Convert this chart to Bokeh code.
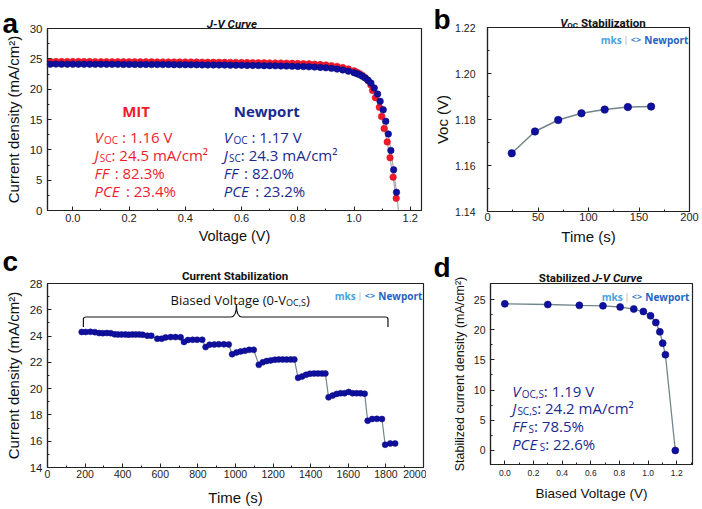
from bokeh.plotting import figure
from bokeh.models import Range1d, FixedTicker, PrintfTickFormatter, Label, BoxAnnotation
from bokeh.layouts import column, row
from bokeh.embed import file_html
from bokeh.resources import INLINE

# ---------------- data ----------------
# (a) J-V curve, MIT (red) and Newport (blue)
mit_v = [-0.08, -0.06, -0.04, -0.02, 0.00, 0.02, 0.04, 0.06, 0.08,
         0.10, 0.12, 0.14, 0.16, 0.18, 0.20, 0.22, 0.24, 0.26, 0.28,
         0.30, 0.32, 0.34, 0.36, 0.38, 0.40, 0.42, 0.44, 0.46, 0.48,
         0.50, 0.52, 0.54, 0.56, 0.58, 0.60, 0.62, 0.64, 0.66, 0.68,
         0.70, 0.72, 0.74, 0.76, 0.78, 0.80, 0.82, 0.84, 0.86, 0.88,
         0.90, 0.92, 0.94, 0.96, 0.98, 1.00,
         1.01, 1.02, 1.03, 1.04, 1.05, 1.06,
         1.066, 1.076, 1.090, 1.098, 1.107, 1.118, 1.128, 1.139, 1.150]
mit_j = [24.55, 24.56, 24.55, 24.55, 24.54, 24.55, 24.54, 24.54, 24.53,
         24.53, 24.53, 24.52, 24.52, 24.52, 24.51, 24.51, 24.50, 24.50, 24.50,
         24.49, 24.49, 24.48, 24.48, 24.47, 24.47, 24.46, 24.46, 24.45, 24.44,
         24.44, 24.43, 24.42, 24.41, 24.40, 24.39, 24.38, 24.37, 24.36, 24.34,
         24.33, 24.32, 24.30, 24.28, 24.26, 24.24, 24.21, 24.17, 24.12, 24.06,
         23.98, 23.88, 23.75, 23.57, 23.33, 23.02,
         22.80, 22.55, 22.25, 21.90, 21.40, 20.70,
         19.8, 18.6, 17.0, 15.5, 13.5, 11.3, 8.7, 5.5, 2.0]
newport_v = [-0.08, -0.06, -0.04, -0.02, 0.00, 0.02, 0.04, 0.06, 0.08,
             0.10, 0.12, 0.14, 0.16, 0.18, 0.20, 0.22, 0.24, 0.26, 0.28,
             0.30, 0.32, 0.34, 0.36, 0.38, 0.40, 0.42, 0.44, 0.46, 0.48,
             0.50, 0.52, 0.54, 0.56, 0.58, 0.60, 0.62, 0.64, 0.66, 0.68,
             0.70, 0.72, 0.74, 0.76, 0.78, 0.80, 0.82, 0.84, 0.86, 0.88,
             0.90, 0.92, 0.94, 0.96, 0.98, 1.00,
             1.01, 1.02, 1.03, 1.04, 1.05, 1.06, 1.072,
             1.084, 1.093, 1.104, 1.113, 1.122, 1.131, 1.141, 1.151]
newport_j = [24.12, 24.13, 24.12, 24.12, 24.12, 24.11, 24.11, 24.11, 24.10,
             24.10, 24.10, 24.09, 24.09, 24.08, 24.08, 24.08, 24.07, 24.07, 24.06,
             24.06, 24.05, 24.05, 24.04, 24.03, 24.03, 24.02, 24.01, 24.00, 23.99,
             23.99, 23.98, 23.97, 23.96, 23.95, 23.94, 23.92, 23.91, 23.89, 23.87,
             23.86, 23.84, 23.82, 23.80, 23.78, 23.75, 23.72, 23.68, 23.64, 23.59,
             23.52, 23.43, 23.31, 23.16, 22.97, 22.72,
             22.56, 22.36, 22.12, 21.83, 21.47, 21.02, 20.2,
             19.2, 18.0, 16.6, 14.7, 12.6, 9.9, 6.7, 3.0]
newport_tail_v = [1.151, 1.158]
newport_tail_j = [3.0, 0.0]

# (b) Voc stabilization
voc_time = [24, 47, 70, 93, 116, 139, 162]
voc_value = [1.1653, 1.1748, 1.1798, 1.1827, 1.1843, 1.1854, 1.1856]

# (c) current stabilization
cur_time = [182, 203, 228, 252,
            274, 294, 315, 336,
            357, 375, 394, 414, 432, 451, 469, 488, 506,
            531, 552,
            584, 607,
            628, 655, 681, 708,
            726,
            747, 772, 796, 823,
            841,
            862, 887, 911, 938, 964,
            982,
            1005, 1027, 1050, 1073, 1097,
            1124,
            1145, 1166, 1187, 1209, 1230, 1251, 1272, 1294, 1313,
            1333,
            1354, 1375, 1396, 1418, 1439, 1460, 1478,
            1495,
            1517, 1538, 1559, 1580, 1602, 1623, 1644, 1665, 1687,
            1703,
            1727, 1752, 1779,
            1796,
            1823, 1849]
cur_j = [24.31, 24.31, 24.32, 24.30,
         24.23, 24.22, 24.23, 24.22,
         24.13, 24.12, 24.12, 24.12, 24.11, 24.12, 24.12, 24.12, 24.10,
         24.03, 24.02,
         23.80, 23.80,
         23.90, 23.92, 23.92, 23.91,
         23.55,
         23.70, 23.72, 23.72, 23.72,
         23.16,
         23.34, 23.36, 23.37, 23.37, 23.36,
         22.62,
         22.75, 22.83, 22.88, 22.95, 22.95,
         21.81,
         22.01, 22.10, 22.15, 22.20, 22.22, 22.22, 22.21, 22.22, 22.22,
         20.82,
         20.92, 21.05, 21.13, 21.15, 21.15, 21.15, 21.15,
         19.34,
         19.47, 19.60, 19.65, 19.65, 19.75, 19.65, 19.65, 19.64, 19.62,
         17.56,
         17.69, 17.70, 17.69,
         15.73,
         15.83, 15.83]
bracket_start, bracket_end, bracket_mid = 191, 1811, 1005
bracket_level, bracket_foot, bracket_peak = 25.45, 24.69, 26.34

# (d) stabilized J-V curve
bias_v = [0.0, 0.30, 0.52, 0.685, 0.805, 0.90, 0.967, 1.017, 1.054, 1.082, 1.102, 1.121, 1.19]
bias_j = [24.28, 24.17, 24.03, 23.95, 23.76, 23.42, 23.01, 22.30, 21.20, 19.65, 17.77, 15.86, 0.0]

# ticks
a_xticks = [0.0, 0.2, 0.4, 0.6, 0.8, 1.0, 1.2]
a_xminor = [0.1, 0.3, 0.5, 0.7, 0.9, 1.1]
a_yticks = [0, 5, 10, 15, 20, 25, 30]
a_yminor = [2.5, 7.5, 12.5, 17.5, 22.5, 27.5]
b_xticks = [0, 50, 100, 150, 200]
b_xminor = [25, 75, 125, 175]
b_yticks = [1.14, 1.16, 1.18, 1.20, 1.22]
b_yminor = [1.15, 1.17, 1.19, 1.21]
c_xticks = [0, 200, 400, 600, 800, 1000, 1200, 1400, 1600, 1800, 2000]
c_xminor = [100, 300, 500, 700, 900, 1100, 1300, 1500, 1700, 1900]
c_yticks = [14, 16, 18, 20, 22, 24, 26, 28]
c_yminor = [15, 17, 19, 21, 23, 25, 27]
d_xticks = [0.0, 0.2, 0.4, 0.6, 0.8, 1.0, 1.2]
d_xminor = [0.1, 0.3, 0.5, 0.7, 0.9, 1.1, 1.3]
d_yticks = [0, 5, 10, 15, 20, 25]
d_yminor = [2.5, 7.5, 12.5, 17.5, 22.5]

# ---------------- styles ----------------
RED = "#ee1c2e"
NAVY = "#1b2a8f"
DOT = "#1010a0"
DOT_EDGE = "#0a0a7a"
LINE_GRAY = "#72868a"
AXC = "#222222"
TXT = "#111111"

CW = {' ': 0.26, '.': 0.27, ',': 0.25, ':': 0.27, '%': 0.82, '/': 0.37, '(': 0.30, ')': 0.30,
      '-': 0.32, '|': 0.55, '<': 0.57, '>': 0.57, '\u00b2': 0.37,
      'A': 0.63, 'B': 0.65, 'C': 0.63, 'E': 0.56, 'F': 0.52, 'I': 0.28, 'J': 0.30, 'M': 0.91,
      'N': 0.76, 'O': 0.78, 'P': 0.60, 'S': 0.55, 'T': 0.56, 'V': 0.59,
      'a': 0.56, 'b': 0.61, 'c': 0.48, 'd': 0.61, 'e': 0.56, 'g': 0.54, 'i': 0.26, 'k': 0.52,
      'l': 0.26, 'm': 0.93, 'n': 0.61, 'o': 0.60, 'p': 0.61, 'r': 0.41, 's': 0.48, 't': 0.35,
      'u': 0.61, 'v': 0.50, 'w': 0.77, 'y': 0.50, 'z': 0.47}
for _d in "0123456789":
    CW[_d] = 0.572
FONT_SCALE = {"Open Sans": 1.0, "Roboto": 0.92, "Liberation Sans": 0.95}


def tw(t, size, style):
    w = sum(CW.get(ch, 0.56) for ch in t) * size
    if "bold" in style:
        w *= 1.06
    if "italic" in style:
        w += 0.05 * size
    return w


def rich(p, x, y, parts, align="left", dx=0.0, dy=0.0, font="Open Sans"):
    sc = FONT_SCALE.get(font, 1.0)
    ws = [tw(t, s, st) * sc for (t, s, st, c, sh) in parts]
    total = sum(ws)
    off = dx - {"left": 0.0, "center": total / 2.0, "right": total}[align]
    for (t, s, st, c, sh), w in zip(parts, ws):
        lead = len(t) - len(t.lstrip(" "))
        o = off + lead * CW[" "] * s * sc
        body = t.strip(" ")
        if body:
            p.add_layout(Label(x=x, y=y, x_offset=o, y_offset=dy + sh, text=body,
                               text_font=font, text_font_size=f"{s}px", text_font_style=st,
                               text_color=c, text_baseline="alphabetic", text_align="left"))
        off += w


def make_fig(w, h, box_x, box_y, m_left, m_right, m_top, m_bottom,
             xt, xm, yt, ym, xfmt, yfmt, xfs, yfs,
             xlabel, ylabel, xlfs, ylfs, xls=4, yls=5, xms=3, yms=4):
    # the frame fills the whole canvas; the visible box sits inside it at the given pixel margins
    bw = w - m_left - m_right
    bh = h - m_top - m_bottom
    kx = (box_x[1] - box_x[0]) / bw
    ky = (box_y[1] - box_y[0]) / bh
    xr = Range1d(box_x[0] - m_left * kx, box_x[1] + m_right * kx)
    yr = Range1d(box_y[0] - m_bottom * ky, box_y[1] + m_top * ky)
    p = figure(width=w, height=h, x_range=xr, y_range=yr, title=None,
               output_backend="svg", toolbar_location=None,
               min_border_left=0, min_border_right=0, min_border_top=0, min_border_bottom=0)
    p.xgrid.visible = False
    p.ygrid.visible = False
    p.outline_line_color = None
    p.background_fill_color = "white"
    p.border_fill_color = "white"
    p.add_layout(BoxAnnotation(left=box_x[0], right=box_x[1], bottom=box_y[0], top=box_y[1],
                               fill_color=None, line_color=AXC, line_width=1.2, line_alpha=1.0))
    p.xaxis.fixed_location = box_y[0]
    p.xaxis.bounds = box_x
    p.yaxis.fixed_location = box_x[0]
    p.yaxis.bounds = box_y
    p.xaxis.ticker = FixedTicker(ticks=xt, minor_ticks=xm)
    p.yaxis.ticker = FixedTicker(ticks=yt, minor_ticks=ym)
    p.xaxis.formatter = PrintfTickFormatter(format=xfmt)
    p.yaxis.formatter = PrintfTickFormatter(format=yfmt)
    p.xaxis.axis_label = xlabel
    p.yaxis.axis_label = ylabel
    for ax, fs, lfs, ls, ms in ((p.xaxis[0], xfs, xlfs, xls, xms), (p.yaxis[0], yfs, ylfs, yls, yms)):
        ax.axis_line_color = AXC
        ax.axis_line_width = 1.2
        ax.major_tick_in = 4
        ax.major_tick_out = 0
        ax.minor_tick_in = 2
        ax.minor_tick_out = 0
        ax.major_tick_line_color = AXC
        ax.minor_tick_line_color = AXC
        ax.major_label_text_font = "Liberation Sans"
        ax.major_label_text_font_size = f"{fs}px"
        ax.major_label_text_color = AXC
        ax.major_label_standoff = ms
        ax.axis_label_text_font = "Liberation Sans"
        ax.axis_label_text_font_style = "normal"
        ax.axis_label_text_font_size = f"{lfs}px"
        ax.axis_label_text_color = TXT
        ax.axis_label_standoff = ls
    return p


def letter(p, x, y, text, dx, dy):
    p.add_layout(Label(x=x, y=y, x_offset=dx, y_offset=dy, text=text,
                       text_font="Liberation Sans", text_font_style="bold",
                       text_font_size="28px", text_color="#000", text_baseline="alphabetic"))


def logo(p, x, y, dx, dy):
    parts = [("mks", 10, "bold", "#4aa3df", 0),
             (" | ", 9, "normal", "#9aa4aa", 0),
             ("<>", 9, "bold", "#3a7fc8", 0),
             (" Newport", 10, "bold", "#2563c2", 0)]
    rich(p, x, y, parts, align="right", dx=dx, dy=dy)


TS = 11.5  # panel title size

# ---------------- panel a ----------------
pa = make_fig(426, 246, (-0.09, 1.24), (0, 30), 47, 5, 28, 36,
              a_xticks, a_xminor, a_yticks, a_yminor, "%.1f", "%d", 11, 11.5,
              "Voltage (V)", "Current density (mA/cm\u00b2)", 14.5, 15, xls=3, yls=5, xms=3, yms=5)
pa.line(mit_v, mit_j, line_color="#a8a8a8", line_width=1.2)
pa.line(newport_v, newport_j, line_color="#a8a8a8", line_width=1.2)
pa.line(newport_tail_v, newport_tail_j, line_color="#a8a8a8", line_width=1.2)
pa.scatter(mit_v, mit_j, size=6.5, fill_color="#f0192c", line_color="#e0101f", line_width=0.6)
pa.scatter(newport_v, newport_j, size=6.5, fill_color=DOT, line_color=DOT_EDGE, line_width=0.6)

rich(pa, 0.225, 16.48, [("MIT", 15, "bold", RED, 0)], align="center")
rich(pa, 0.687, 16.48, [("Newport", 15, "bold", NAVY, 0)], align="center")
rows_y = [12.08, 9.07, 6.15, 3.18]
for col_x, color, vals in ((0.077, RED, ["1.16 V", "24.5 mA/cm\u00b2", "82.3%", "23.4%"]),
                           (0.537, NAVY, ["1.17 V", "24.3 mA/cm\u00b2", "82.0%", "23.2%"])):
    rich(pa, col_x, rows_y[0], [("V", 15, "italic", color, 0), ("OC", 10, "normal", color, -3),
                                (" : " + vals[0], 15, "normal", color, 0)])
    rich(pa, col_x, rows_y[1], [("J", 15, "italic", color, 0), ("SC", 10, "normal", color, -3),
                                (": " + vals[1], 15, "normal", color, 0)])
    rich(pa, col_x, rows_y[2], [("FF", 15, "italic", color, 0),
                                (" : " + vals[2], 15, "normal", color, 0)])
    rich(pa, col_x, rows_y[3], [("PCE", 15, "italic", color, 0),
                                (" : " + vals[3], 15, "normal", color, 0)])
rich(pa, 0.561, 30, [("J-V Curve", TS, "bold italic", TXT, 0)], align="center", dy=5, font="Roboto")
letter(pa, -0.09, 30, "a", -45, 5)

# ---------------- panel b ----------------
pb = make_fig(275, 246, (0, 200), (1.14, 1.22), 61, 12, 27, 35,
              b_xticks, b_xminor, b_yticks, b_yminor, "%d", "%.2f", 11, 10.5,
              "Time (s)", "Voc (V)", 15, 15, xls=4, yls=1, xms=1, yms=12)
pb.line(voc_time, voc_value, line_color=LINE_GRAY, line_width=1.5)
pb.scatter(voc_time, voc_value, size=7.5, fill_color=DOT, line_color=DOT_EDGE, line_width=0.6)
rich(pb, 114, 1.22, [("V", TS, "bold italic", TXT, 0), ("OC", 8, "bold", TXT, -2.5),
                     (" Stabilization", TS, "bold", TXT, 0)], align="center", dy=5, font="Roboto")
logo(pb, 200, 1.22, -2, -12)
letter(pb, 0, 1.22, "b", -54, 8)

# ---------------- panel c ----------------
pc = make_fig(426, 262, (0, 2000), (14, 28), 47, 3, 37, 41,
              c_xticks, c_xminor, c_yticks, c_yminor, "%d", "%d", 10.5, 11.5,
              "Time (s)", "Current density (mA/cm\u00b2)", 15, 15, xls=8, yls=5, xms=2, yms=5)
pc.line(cur_time, cur_j, line_color=LINE_GRAY, line_width=1.2)
pc.scatter(cur_time, cur_j, size=6, fill_color=DOT, line_color=DOT_EDGE, line_width=0.5)
# brace annotation
pc.line([bracket_start, bracket_start], [bracket_foot, bracket_level - 0.15], line_color="#111", line_width=1.2)
pc.quadratic(x0=[bracket_start, bracket_end], y0=[bracket_level - 0.15, bracket_level - 0.15],
             x1=[bracket_start + 15, bracket_end - 15], y1=[bracket_level, bracket_level],
             cx=[bracket_start, bracket_end], cy=[bracket_level, bracket_level],
             line_color="#111", line_width=1.2)
pc.line([bracket_start + 15, bracket_mid - 30], [bracket_level, bracket_level], line_color="#111", line_width=1.2)
pc.line([bracket_mid + 30, bracket_end - 15], [bracket_level, bracket_level], line_color="#111", line_width=1.2)
pc.quadratic(x0=[bracket_mid - 30, bracket_mid + 30], y0=[bracket_level, bracket_level],
             x1=[bracket_mid, bracket_mid], y1=[bracket_peak, bracket_peak],
             cx=[bracket_mid, bracket_mid], cy=[bracket_level, bracket_level],
             line_color="#111", line_width=1.2)
pc.line([bracket_end, bracket_end], [bracket_level - 0.15, bracket_foot], line_color="#111", line_width=1.2)
rich(pc, bracket_mid + 20, 26.78, [("Biased Voltage (0-V", 13, "normal", TXT, 0),
                                   ("OC,S", 9, "normal", TXT, -3), (")", 13, "normal", TXT, 0)],
     align="center")
rich(pc, 1000, 28, [("Current Stabilization", TS, "bold", TXT, 0)], align="center", dy=8, font="Roboto")
logo(pc, 2000, 28, -2, -12)
letter(pc, 0, 28, "c", -45, 22)

# ---------------- panel d ----------------
pd_ = make_fig(275, 262, (-0.10, 1.31), (-2.32, 27.65), 64, 9, 37, 44,
               d_xticks, d_xminor, d_yticks, d_yminor, "%.1f", "%d", 8.5, 10.5,
               "Biased Voltage (V)", "Stabilized current density (mA/cm\u00b2)", 13.5, 12.5,
               xls=7, yls=4, xms=5, yms=5)
pd_.line(bias_v, bias_j, line_color=LINE_GRAY, line_width=1.3)
pd_.scatter(bias_v, bias_j, size=7, fill_color=DOT, line_color=DOT_EDGE, line_width=0.6)
d_rows = [9.93, 7.0, 4.03, 1.1]
dx0 = 0.051
rich(pd_, dx0, d_rows[0], [("V", 15, "italic", NAVY, 0), ("OC,S", 10, "normal", NAVY, -3),
                           (": 1.19 V", 15, "normal", NAVY, 0)])
rich(pd_, dx0, d_rows[1], [("J", 15, "italic", NAVY, 0), ("SC,S", 10, "normal", NAVY, -3),
                           (": 24.2 mA/cm\u00b2", 15, "normal", NAVY, 0)])
rich(pd_, dx0, d_rows[2], [("FF", 15, "italic", NAVY, 0), ("S", 10, "normal", NAVY, -3),
                           (": 78.5%", 15, "normal", NAVY, 0)])
rich(pd_, dx0, d_rows[3], [("PCE", 15, "italic", NAVY, 0), ("S", 10, "normal", NAVY, -3),
                           (": 22.6%", 15, "normal", NAVY, 0)])
rich(pd_, 0.589, 27.65, [("Stabilized ", TS, "bold", TXT, 0), ("J-V Curve", TS, "bold italic", TXT, 0)],
     align="center", dy=6, font="Roboto")
logo(pd_, 1.31, 27.65, -4, -13)
letter(pd_, -0.10, 27.65, "d", -57, 16)

layout = column(row(pa, pb), row(pc, pd_))
open("out.html", "w").write(file_html(layout, INLINE))
